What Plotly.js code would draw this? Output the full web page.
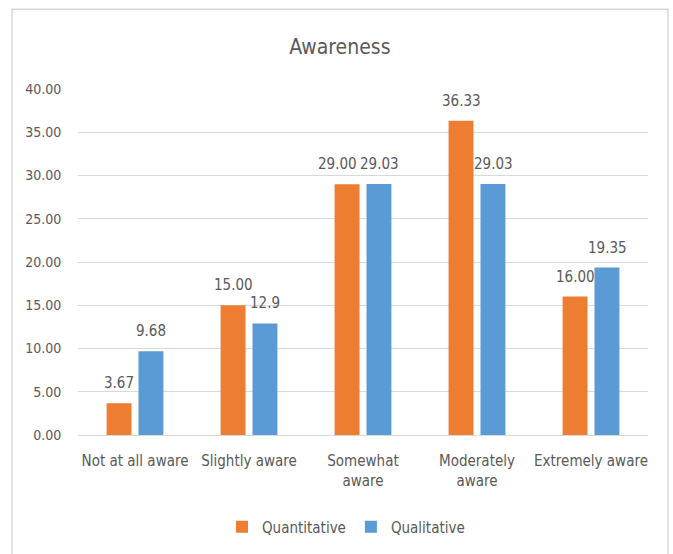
<!DOCTYPE html>
<html>
<head>
<meta charset="utf-8">
<script src="https://cdn.plot.ly/plotly-3.0.1.min.js"></script>
<style>
html,body{margin:0;padding:0;background:#fff;}
#chart{width:673px;height:554px;}
</style>
</head>
<body>
<div id="chart"></div>
<script>
const categories = ["Not at all aware", "Slightly aware", "Somewhat<br>aware", "Moderately<br>aware", "Extremely aware"];
const quantitative = [3.67, 15.00, 29.00, 36.33, 16.00];
const qualitative = [9.68, 12.9, 29.03, 29.03, 19.35];
const quantLabels = ["3.67", "15.00", "29.00", "36.33", "16.00"];
const qualLabels = ["9.68", "12.9", "29.03", "29.03", "19.35"];
const yTicks = [0, 5, 10, 15, 20, 25, 30, 35, 40];

const FONT = "'Liberation Sans Narrow', 'Arial Narrow', 'DejaVu Sans Condensed', sans-serif";
const TXT = "#595959";

const traces = [
  {type: "bar", name: "Quantitative", x: categories, y: quantitative,
   marker: {color: "#ED7D31"}, hoverinfo: "none"},
  {type: "bar", name: "Qualitative", x: categories, y: qualitative,
   marker: {color: "#5B9BD5"}, hoverinfo: "none"}
];

const annotations = [];
categories.forEach((c, i) => {
  // nudge the orange label left when the two labels of a group would collide
  const crowded = Math.abs(quantitative[i] - qualitative[i]) < 2;
  annotations.push({x: c, y: quantitative[i], xref: "x", yref: "y", text: quantLabels[i],
    showarrow: false, xshift: crowded ? -26 : -16, yshift: 20, yanchor: "middle",
    font: {family: FONT, size: 15, color: TXT}});
  annotations.push({x: c, y: qualitative[i], xref: "x", yref: "y", text: qualLabels[i],
    showarrow: false, xshift: 16, yshift: 20, yanchor: "middle",
    font: {family: FONT, size: 15, color: TXT}});
});

const layout = {
  width: 673, height: 554,
  margin: {l: 78, r: 25, t: 89, b: 118},
  paper_bgcolor: "#fff", plot_bgcolor: "#fff",
  font: {family: FONT, color: TXT, size: 14},
  title: {text: "Awareness", x: 0.505, xanchor: "center", y: 1 - 47/554, yanchor: "middle",
          font: {family: FONT, size: 21, color: TXT}},
  barmode: "group", bargap: 0.44, bargroupgap: 0.22,
  showlegend: true,
  legend: {orientation: "h", x: (222 - 78) / 570, xanchor: "left", y: -0.262, yanchor: "middle",
           font: {family: FONT, size: 15, color: TXT}, itemwidth: 30, tracegroupgap: 0},
  xaxis: {type: "category", showgrid: false, showline: true, linecolor: "#D9D9D9", linewidth: 1,
          ticks: "outside", ticklen: 12, tickcolor: "rgba(0,0,0,0)",
          tickfont: {family: FONT, size: 15, color: TXT}, fixedrange: true},
  yaxis: {range: [0, 40], tickvals: yTicks, ticktext: yTicks.map(v => v.toFixed(2)),
          showgrid: true, gridcolor: "#D9D9D9", gridwidth: 1, zeroline: false, showline: false,
          ticks: "outside", ticklen: 13, tickcolor: "rgba(0,0,0,0)",
          tickfont: {family: FONT, size: 14, color: TXT}, fixedrange: true},
  annotations: annotations,
  shapes: [{type: "path", xref: "paper", yref: "paper",
            path: "M " + ((12-78)/570) + "," + ((436-560)/347) + " L " + ((12-78)/570) + "," + ((436-9)/347) +
                  " L " + ((668-78)/570) + "," + ((436-9)/347) + " L " + ((668-78)/570) + "," + ((436-560)/347),
            line: {color: "#D9D9D9", width: 1.5}, layer: "below"}]
};

Plotly.newPlot("chart", traces, layout, {displayModeBar: false, staticPlot: true});
</script>
</body>
</html>
